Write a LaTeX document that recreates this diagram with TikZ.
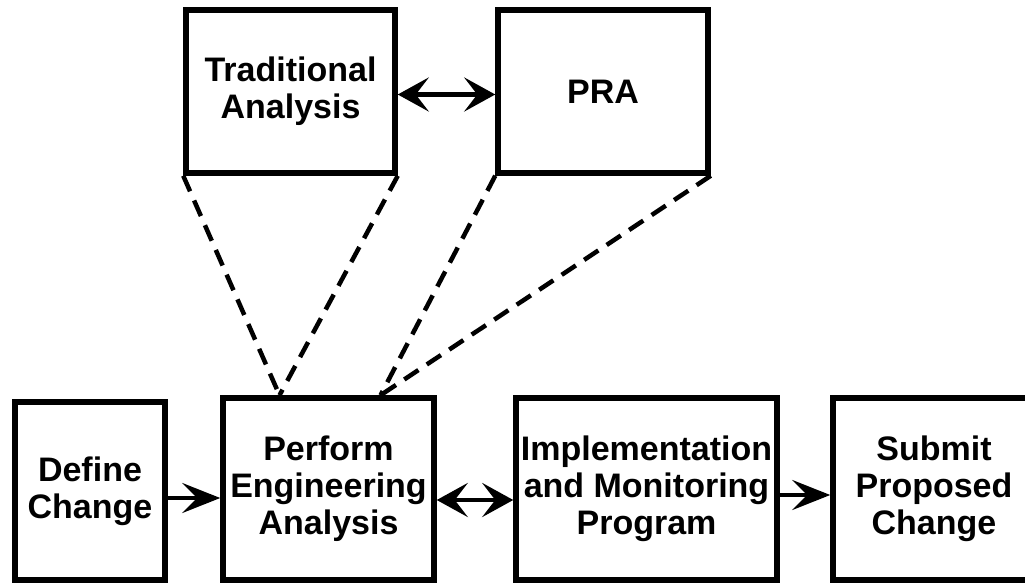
\documentclass[tikz,border=0pt]{standalone}
\usepackage{fontspec}
\setmainfont{Liberation Sans}
\usetikzlibrary{arrows.meta}

\begin{document}
\begin{tikzpicture}[x=1pt, y=-1pt,
		box/.style={draw, line width=5.5pt, align=center, inner sep=0pt,
			font=\fontsize{34}{37}\selectfont\bfseries},
		flow/.style={line width=4.5pt, >={Stealth[length=38pt, width=30pt, inset=15pt]}},
		both/.style={line width=4.5pt, >={Stealth[length=31pt, width=34pt, inset=13pt]}},
		link/.style={line width=4.5pt, dash pattern=on 17pt off 10pt}]
				\useasboundingbox (0,0) rectangle (1025,584);
				% upper boxes
				\node[box, minimum width=209pt, minimum height=163pt] (trad) at (290.5,91.5) {Traditional\\Analysis};
				\node[box, minimum width=210pt, minimum height=163pt] (pra) at (603,91.5) {PRA};
				% lower row
				\node[box, minimum width=150pt, minimum height=178pt] (define) at (90,491) {Define\\Change};
				\node[box, minimum width=211pt, minimum height=182pt] (perform) at (328.5,489) {Perform\\Engineering\\Analysis};
				\node[box, minimum width=261pt, minimum height=182pt] (impl) at (646.5,489) {Implementation\\and Monitoring\\Program};
				\node[box, minimum width=202pt, minimum height=182pt] (submit) at (934,489) {Submit\\Proposed\\Change};
				\draw[both, <->] ([yshift=-3pt]trad.east) -- ([yshift=-3pt]pra.west);
				\draw[flow, ->] ([yshift=-7pt]define.east) -- ([yshift=-9pt]perform.west);
				\draw[both, <->] ([yshift=-11pt]perform.east) -- ([yshift=-11pt]impl.west);
				\draw[flow, ->] ([yshift=-6pt]impl.east) -- ([yshift=-6pt]submit.west);
				\draw[link] (trad.south west) -- ([xshift=-49pt]perform.north);
				\draw[link] (trad.south east) -- ([xshift=-49pt]perform.north);
				\draw[link] (pra.south west) -- ([xshift=52pt]perform.north);
				\draw[link] (pra.south east) -- ([xshift=52pt]perform.north);
			\end{tikzpicture}
\end{document}
